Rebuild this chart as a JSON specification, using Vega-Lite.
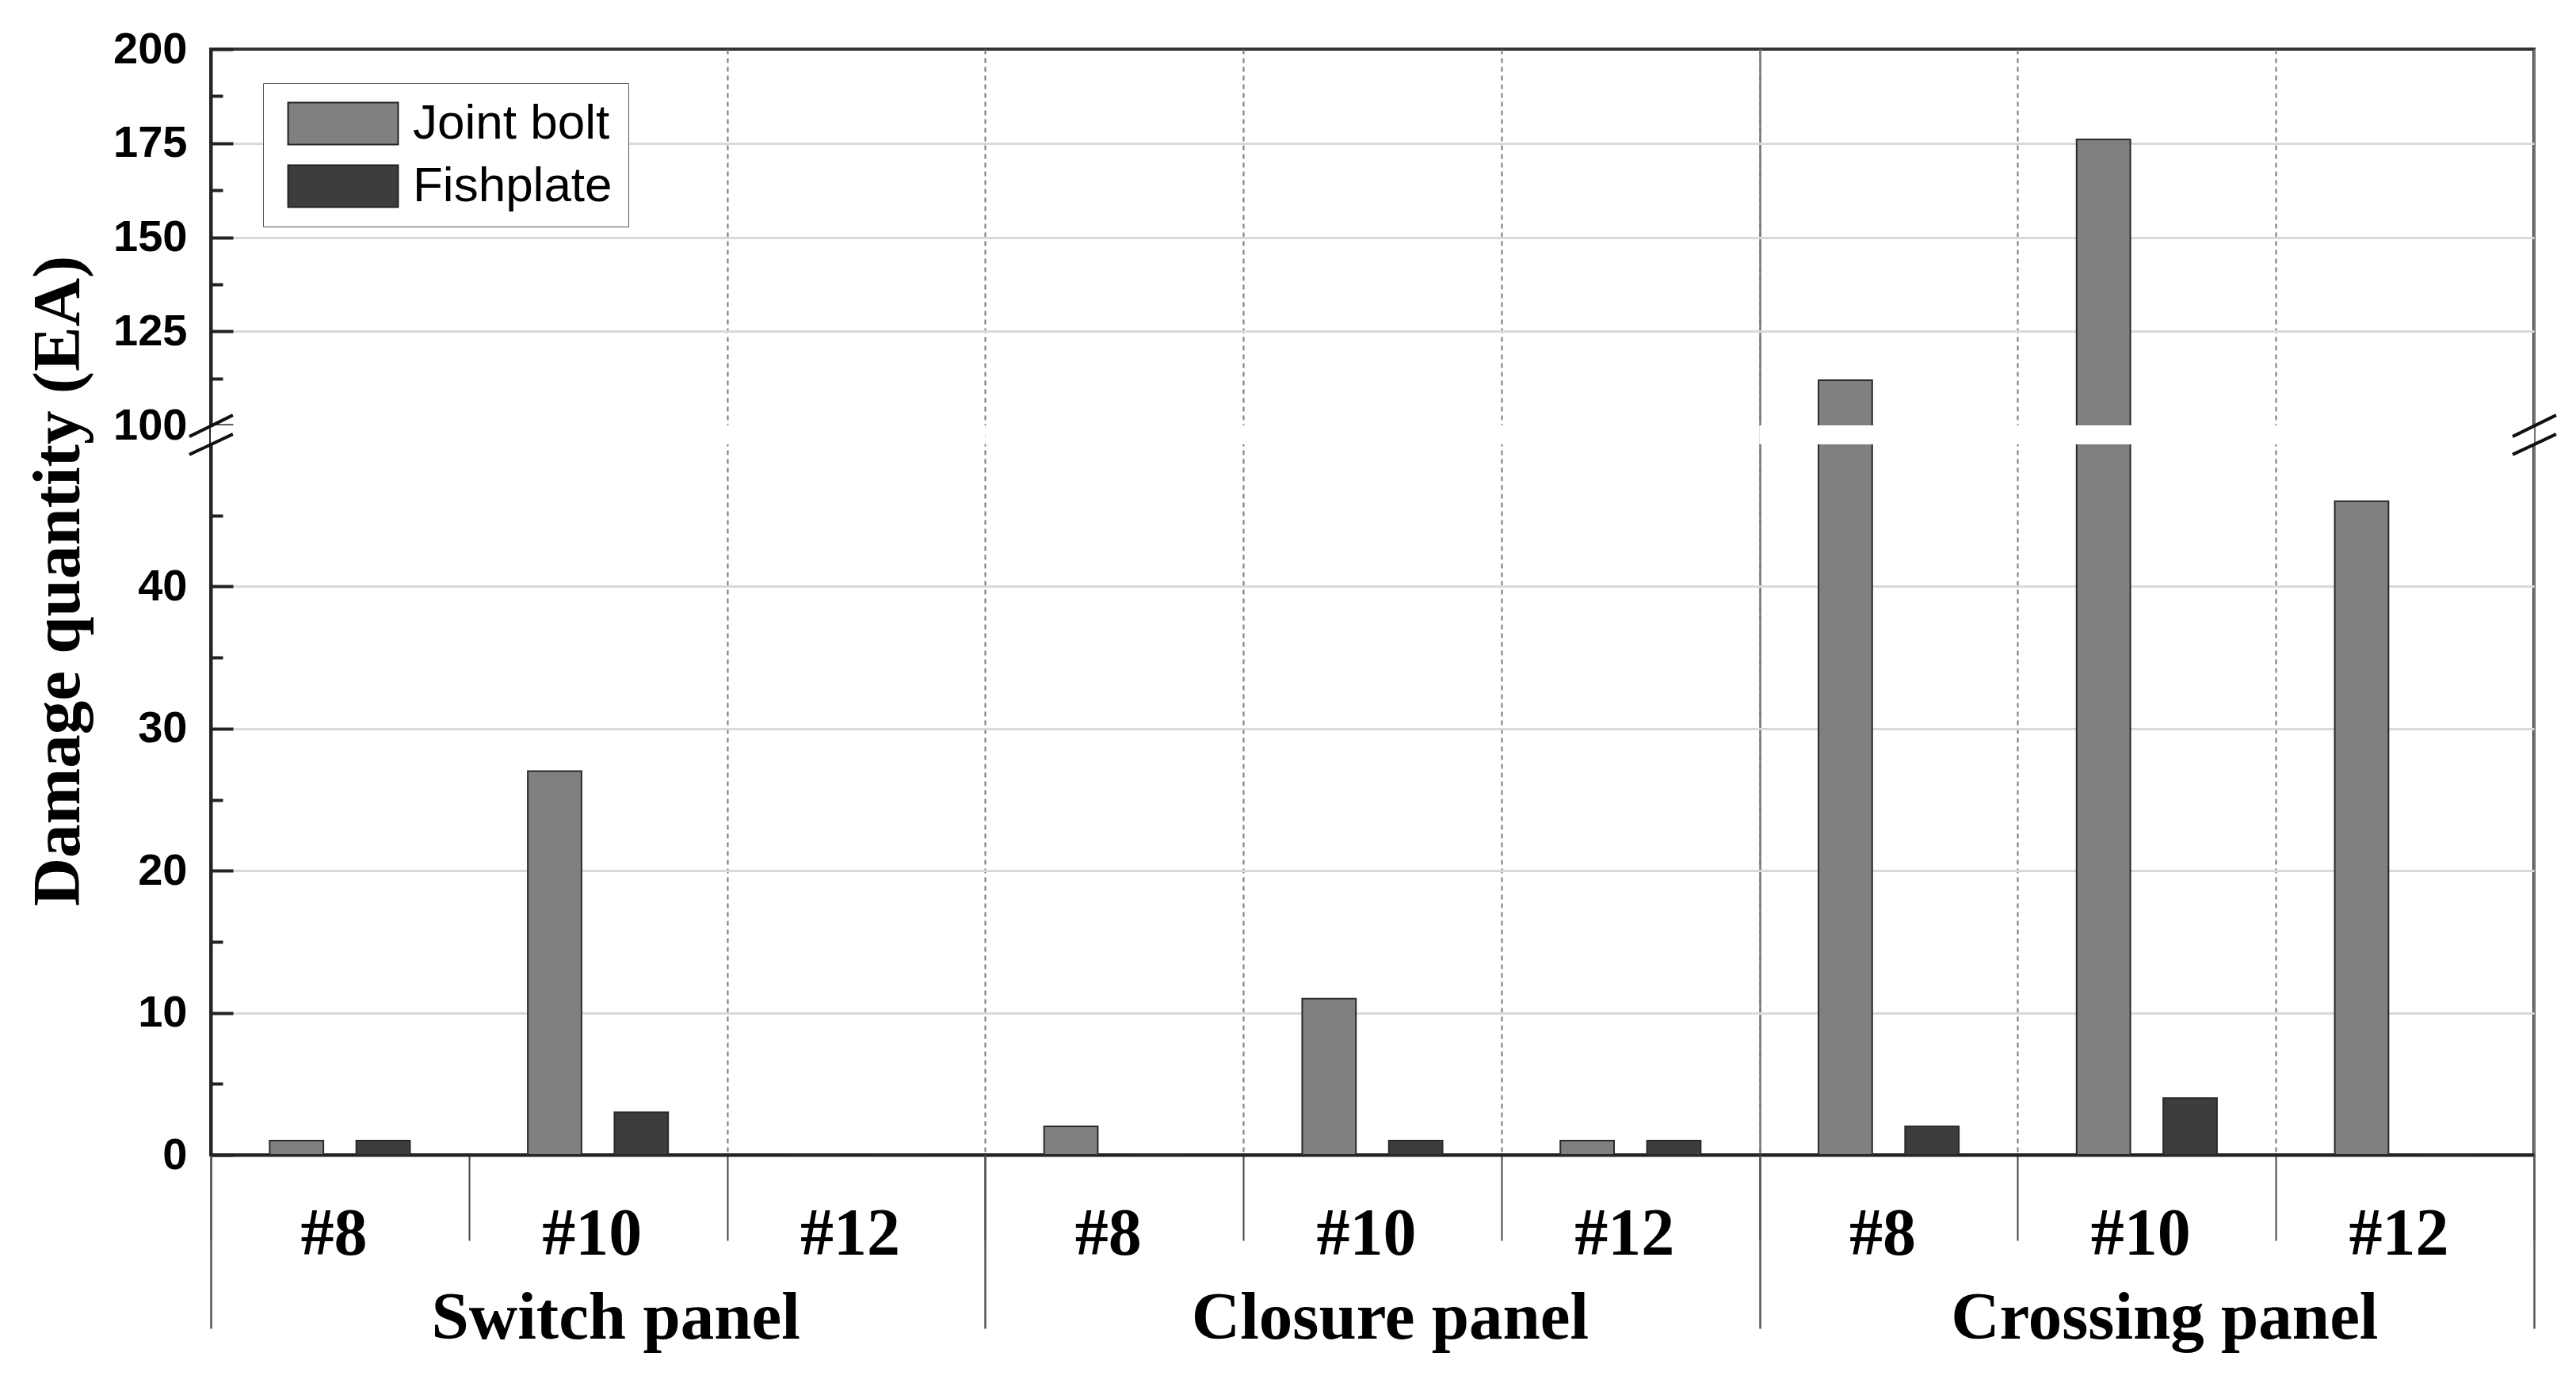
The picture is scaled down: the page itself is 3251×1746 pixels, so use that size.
{
  "$schema": "https://vega.github.io/schema/vega-lite/v6.json",
  "width": 2932,
  "height": 1396,
  "autosize": {"type": "none"},
  "padding": {"left": 266, "top": 62, "right": 53, "bottom": 288},
  "background": "white",
  "datasets": {
    "damage": [
      {"panel": "Switch panel", "size": "#8", "cat": "Switch panel #8", "series": "Joint bolt", "value": 1},
      {"panel": "Switch panel", "size": "#8", "cat": "Switch panel #8", "series": "Fishplate", "value": 1},
      {"panel": "Switch panel", "size": "#10", "cat": "Switch panel #10", "series": "Joint bolt", "value": 27},
      {"panel": "Switch panel", "size": "#10", "cat": "Switch panel #10", "series": "Fishplate", "value": 3},
      {"panel": "Switch panel", "size": "#12", "cat": "Switch panel #12", "series": "Joint bolt", "value": 0},
      {"panel": "Switch panel", "size": "#12", "cat": "Switch panel #12", "series": "Fishplate", "value": 0},
      {"panel": "Closure panel", "size": "#8", "cat": "Closure panel #8", "series": "Joint bolt", "value": 2},
      {"panel": "Closure panel", "size": "#8", "cat": "Closure panel #8", "series": "Fishplate", "value": 0},
      {"panel": "Closure panel", "size": "#10", "cat": "Closure panel #10", "series": "Joint bolt", "value": 11},
      {"panel": "Closure panel", "size": "#10", "cat": "Closure panel #10", "series": "Fishplate", "value": 1},
      {"panel": "Closure panel", "size": "#12", "cat": "Closure panel #12", "series": "Joint bolt", "value": 1},
      {"panel": "Closure panel", "size": "#12", "cat": "Closure panel #12", "series": "Fishplate", "value": 1},
      {"panel": "Crossing panel", "size": "#8", "cat": "Crossing panel #8", "series": "Joint bolt", "value": 112},
      {"panel": "Crossing panel", "size": "#8", "cat": "Crossing panel #8", "series": "Fishplate", "value": 2},
      {"panel": "Crossing panel", "size": "#10", "cat": "Crossing panel #10", "series": "Joint bolt", "value": 176},
      {"panel": "Crossing panel", "size": "#10", "cat": "Crossing panel #10", "series": "Fishplate", "value": 4},
      {"panel": "Crossing panel", "size": "#12", "cat": "Crossing panel #12", "series": "Joint bolt", "value": 46},
      {"panel": "Crossing panel", "size": "#12", "cat": "Crossing panel #12", "series": "Fishplate", "value": 0}
    ],
    "panels": [
      {"panel": "Switch panel"},
      {"panel": "Closure panel"},
      {"panel": "Crossing panel"}
    ]
  },
  "layer": [
    {
      "data": {"name": "damage"},
      "mark": {"type": "bar", "stroke": "#2a2a2a", "strokeWidth": 2},
      "encoding": {
        "x": {
          "field": "cat",
          "type": "nominal",
          "scale": {
            "domain": ["Switch panel #8", "Switch panel #10", "Switch panel #12", "Closure panel #8", "Closure panel #10", "Closure panel #12", "Crossing panel #8", "Crossing panel #10", "Crossing panel #12"],
            "paddingInner": 0,
            "paddingOuter": 0
          },
          "axis": {
            "title": null,
            "orient": "bottom",
            "tickBand": "extent",
            "labelExpr": "split(datum.label, ' ')[2]",
            "labelFont": "Liberation Serif",
            "labelFontWeight": "bold",
            "labelFontSize": 84,
            "labelColor": "#000",
            "labelAngle": 0,
            "labelLimit": 1000,
            "labelBaseline": "alphabetic",
            "labelPadding": 17,
            "labelOffset": -8,
            "tickSize": 108,
            "tickColor": "#444",
            "tickWidth": 2,
            "domainColor": "#222",
            "domainWidth": 4,
            "grid": true,
            "gridColor": "#7a7a7a",
            "gridWidth": 2,
            "gridDash": [6, 5],
            "gridOpacity": {"condition": {"test": "datum.index <= 0", "value": 0}, "value": 1},
            "zindex": 0
          }
        },
        "xOffset": {
          "field": "series",
          "type": "nominal",
          "scale": {"domain": ["Joint bolt", "Fishplate"], "paddingInner": 0.38, "paddingOuter": 0.68}
        },
        "y": {
          "field": "value",
          "type": "quantitative",
          "title": "Damage quantity (EA)",
          "scale": {"domain": [0, 50, 100, 200], "range": [1396, 499, 475, 0], "nice": false, "zero": false},
          "axis": {
            "values": [0, 5, 10, 15, 20, 25, 30, 35, 40, 45, 100, 112.5, 125, 137.5, 150, 162.5, 175, 187.5, 200],
            "labelExpr": "((datum.value <= 40 && datum.value % 10 === 0) || (datum.value >= 100 && datum.value % 25 === 0)) ? datum.label : ''",
            "labelFont": "Liberation Sans",
            "labelFontWeight": "bold",
            "labelFontSize": 56,
            "labelColor": "#000",
            "labelPadding": 58,
            "tickSize": {"condition": {"test": "(datum.value <= 40 && datum.value % 10 === 0) || (datum.value >= 100 && datum.value % 25 === 0)", "value": -28}, "value": -15},
            "tickColor": "#222",
            "tickWidth": 4,
            "domainColor": "#222",
            "domainWidth": 4,
            "grid": true,
            "gridColor": "#d9d9d9",
            "gridWidth": 3,
            "gridOpacity": {"condition": {"test": "datum.value === 10 || datum.value === 20 || datum.value === 30 || datum.value === 40 || datum.value === 125 || datum.value === 150 || datum.value === 175", "value": 1}, "value": 0},
            "titleFont": "Liberation Serif",
            "titleFontWeight": "bold",
            "titleFontSize": 85,
            "titleColor": "#000",
            "titlePadding": 25,
            "titleY": 671,
            "zindex": 0
          }
        },
        "color": {
          "field": "series",
          "type": "nominal",
          "scale": {"domain": ["Joint bolt", "Fishplate"], "range": ["#808080", "#3d3d3d"]},
          "legend": {
            "title": null,
            "orient": "none",
            "legendX": 66,
            "legendY": 43,
            "symbolType": "M-2.62,-1H2.62V1H-2.62Z",
            "symbolSize": 2809,
            "symbolStrokeColor": "#222",
            "symbolStrokeWidth": 2,
            "symbolOffset": 50,
            "labelOffset": 57,
            "labelFont": "Liberation Sans",
            "labelFontSize": 62,
            "labelColor": "#000",
            "labelLimit": 500,
            "rowPadding": 17,
            "padding": 20,
            "strokeColor": "#555",
            "fillColor": "white"
          }
        }
      }
    },
    {
      "data": {"name": "panels"},
      "mark": {"type": "bar", "fill": "white", "strokeOpacity": 0},
      "encoding": {
        "x": {
          "field": "panel",
          "type": "nominal",
          "scale": {"domain": ["Switch panel", "Closure panel", "Crossing panel"], "paddingInner": 0, "paddingOuter": 0},
          "axis": {
            "title": null,
            "orient": "bottom",
            "tickBand": "extent",
            "labelFont": "Liberation Serif",
            "labelFontWeight": "bold",
            "labelFontSize": 85,
            "labelColor": "#000",
            "labelAngle": 0,
            "labelLimit": 2000,
            "labelBaseline": "alphabetic",
            "labelPadding": 12,
            "labelOffset": 22,
            "tickSize": 219,
            "tickColor": "#555",
            "tickWidth": 2.5,
            "domain": false,
            "grid": true,
            "gridColor": "#777",
            "gridWidth": 2.5,
            "gridOpacity": {"condition": {"test": "datum.index <= 0", "value": 0}, "value": 1},
            "zindex": 0
          }
        },
        "y": {"datum": 50, "type": "quantitative", "title": "Damage quantity (EA)"},
        "y2": {"datum": 100}
      }
    },
    {
      "data": {"name": "panels"},
      "transform": [{"filter": "datum.panel === 'Switch panel'"}],
      "mark": {"type": "point", "shape": "M-0.9,0.07L0.93,-0.83M-0.9,0.83L0.93,-0.03", "filled": false, "stroke": "#111", "strokeWidth": 4, "size": 3600, "opacity": 1},
      "encoding": {
        "x": {"field": "panel", "type": "nominal", "bandPosition": 0, "scale": {"type": "band", "paddingInner": 0, "paddingOuter": 0}, "axis": null},
        "y": {"datum": 75, "type": "quantitative", "title": "Damage quantity (EA)"}
      }
    },
    {
      "data": {"name": "panels"},
      "transform": [{"filter": "datum.panel === 'Crossing panel'"}],
      "mark": {"type": "point", "shape": "M-0.9,0.07L0.93,-0.83M-0.9,0.83L0.93,-0.03", "filled": false, "stroke": "#111", "strokeWidth": 4, "size": 3600, "opacity": 1},
      "encoding": {
        "x": {"field": "panel", "type": "nominal", "bandPosition": 1, "scale": {"type": "band", "paddingInner": 0, "paddingOuter": 0}, "axis": null},
        "y": {"datum": 75, "type": "quantitative", "title": "Damage quantity (EA)"}
      }
    }
  ],
  "resolve": {"scale": {"x": "independent"}, "axis": {"x": "independent"}},
  "config": {
    "view": {"stroke": "#333", "strokeWidth": 4},
    "font": "Liberation Sans"
  }
}
